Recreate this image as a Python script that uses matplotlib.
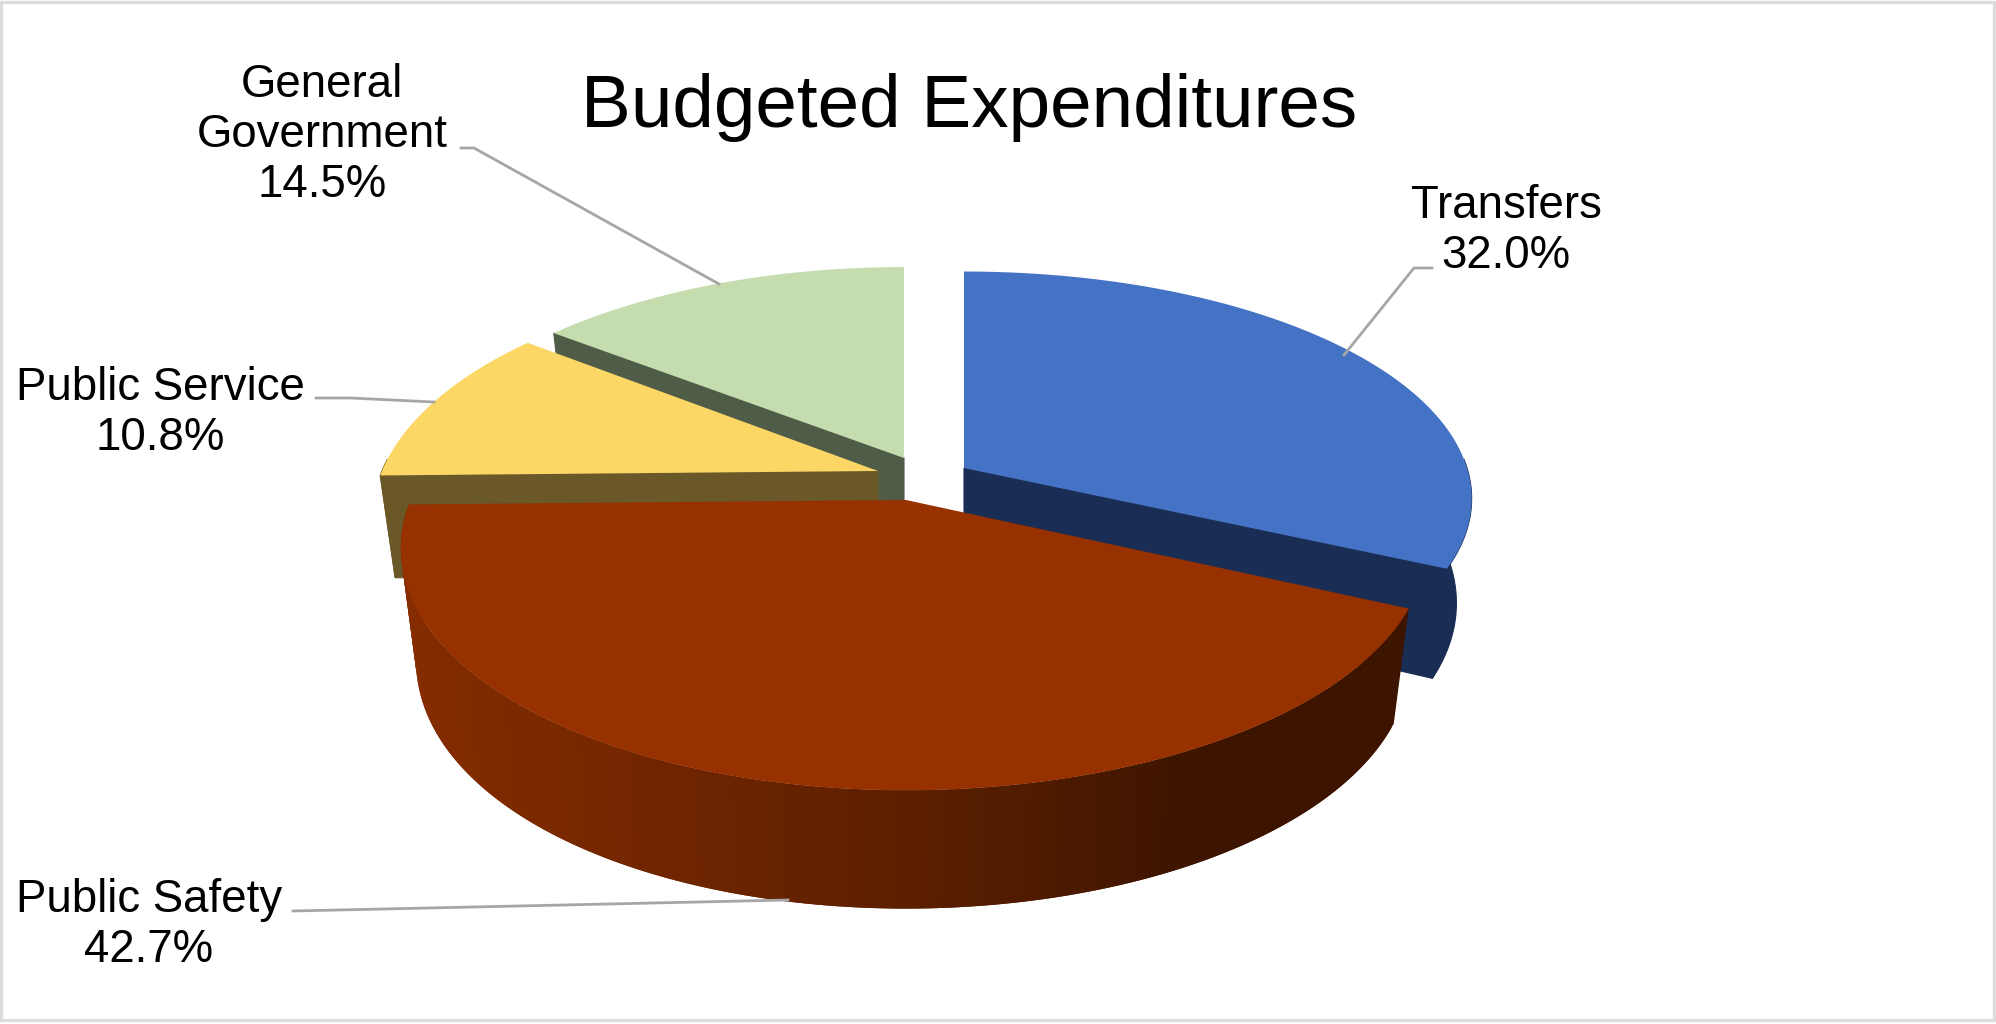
import numpy as np
import matplotlib
matplotlib.use('Agg')
import matplotlib.pyplot as plt
from matplotlib.patches import Polygon, Rectangle

plt.rcParams['font.family'] = ['Liberation Sans', 'DejaVu Sans']

categories = ['Transfers', 'Public Safety', 'Public Service', 'General\nGovernment']
shares = [32.0, 42.7, 10.8, 14.5]
title = 'Budgeted Expenditures'

# look of the slices, same order as categories
top_colors = ['#4472c4', '#973100', '#fcd766', '#c5dcae']
side_colors = ['#1a2d55', '#5a1e00', '#6b5828', '#4f5c47']
# where the tip of each exploded slice sits
tips = [(964, 468), (906, 500), (878, 471), (904, 458)]
# x radius, y radius, perspective, skew for each slice
shapes = [(503, 223, 0.135, 0.0),
          (503, 234, 0.194, 0.015),
          (496, 234, 0.194, 0.0),
          (496, 228, 0.194, 0.0)]
# label centres and leader lines
label_pos = [(1506, 231), (149, 925), (160, 413), (322, 135)]
leaders = [[(1432, 268), (1414, 268), (1344, 355)],
           [(293, 911), (788, 900)],
           [(316, 398), (350, 398), (434, 402)],
           [(461, 148), (474, 148), (719, 284)]]

BOTTOM_SCALE = 0.97
DEPTH_BACK = 102.0
DEPTH_FRONT = 25.0


def top_edge(i, theta):
    a, b, persp, skew = shapes[i]
    u, v = np.cos(theta), np.sin(theta)
    s = 1 / (1 - persp * v)
    return tips[i][0] + a * u * s * (1 + skew * u), tips[i][1] + b * v * s


def bottom_edge(i, theta):
    a, b, persp, skew = shapes[i]
    u, v = np.cos(theta), np.sin(theta)
    s = BOTTOM_SCALE / (1 - persp * v)
    # the safety wall is a bit taller at the sides
    drop = DEPTH_BACK + DEPTH_FRONT * (np.sqrt(max(v, 0)) if i == 1 else v)
    return tips[i][0] + a * u * s * (1 + skew * u), tips[i][1] + b * v * s + drop


def wall_color(t):
    stops = np.array([[0x85, 0x2c, 0x00], [0x5c, 0x1f, 0x00], [0x3c, 0x14, 0x00], [0x3c, 0x14, 0x00]])
    pos = [0.0, 0.5, 0.8, 1.0]
    return tuple(np.interp(t, pos, stops[:, c]) / 255 for c in range(3))


fig = plt.figure(figsize=(19.96, 10.24), dpi=100, facecolor='white')
ax = fig.add_axes([0, 0, 1, 1])
ax.set_xlim(0, 1996)
ax.set_ylim(1024, 0)
ax.axis('off')

# frame stops a little short of the bottom of the picture
ax.add_patch(Rectangle((1.5, 1.5), 1993, 1018.5, fill=False, edgecolor='#dcdcdc', linewidth=2.4))

angles = -90 + np.cumsum([0] + shares) * 3.6
slices = []
for i in range(len(shares)):
    slices.append((np.radians(angles[i]), np.radians(angles[i + 1])))

# which radial cut shows on each slice
cuts = {0: [slices[0][1]], 1: [], 2: [slices[2][0]], 3: [slices[3][0]]}

# back slices first, the big front one last
for i in [3, 2, 0, 1]:
    start, end = slices[i]
    tip = tips[i]
    thetas = np.linspace(start, end, 160)
    tip_low = (tip[0], tip[1] + DEPTH_BACK)

    for th in cuts[i]:
        face = [tip, top_edge(i, th), bottom_edge(i, th), tip_low]
        ax.add_patch(Polygon(face, closed=True, facecolor=side_colors[i], edgecolor=side_colors[i], linewidth=0.8))

    # outer wall, gradient strips overlap so no seams show
    if i == 1:
        for k in range(len(thetas) - 2):
            t0, t1 = thetas[k], thetas[k + 2]
            x_mid = top_edge(i, thetas[k + 1])[0]
            shade = wall_color(np.clip((x_mid - (tip[0] - 503)) / (2 * 503), 0, 1))
            quad = [top_edge(i, t0), top_edge(i, t1), bottom_edge(i, t1), bottom_edge(i, t0)]
            ax.add_patch(Polygon(quad, closed=True, facecolor=shade, edgecolor='none'))
    else:
        # only the part facing the viewer, the back of the rim is hidden
        front = thetas[np.sin(thetas) > -0.05]
        if len(front) > 1:
            wall = [top_edge(i, t) for t in front] + [bottom_edge(i, t) for t in front[::-1]]
            ax.add_patch(Polygon(wall, closed=True, facecolor=side_colors[i], edgecolor=side_colors[i], linewidth=0.8))

    # top face
    face = [tip] + [top_edge(i, t) for t in thetas]
    ax.add_patch(Polygon(face, closed=True, facecolor=top_colors[i], edgecolor='none'))

for line in leaders:
    xs, ys = zip(*line)
    ax.plot(xs, ys, color='#a6a6a6', linewidth=2.0, solid_joinstyle='miter')

ax.text(969, 108, title, fontsize=53.8, ha='center', va='center', color='black')
for name, val, pos in zip(categories, shares, label_pos):
    ax.text(pos[0], pos[1], f'{name}\n{val:.1f}%', fontsize=32.9, ha='center', va='center',
            color='black', linespacing=1.19, multialignment='center')

fig.savefig('out.png', dpi=100, facecolor='white')
